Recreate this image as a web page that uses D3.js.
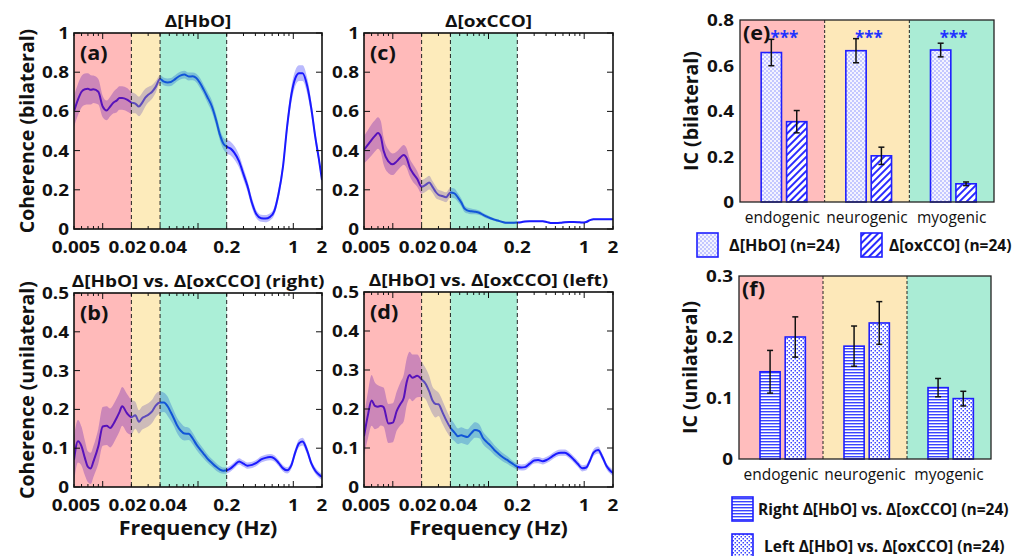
<!DOCTYPE html>
<html lang="en">
<head>
  <meta charset="UTF-8">
  <title>Coherence and IC</title>
  <script src="https://d3js.org/d3.v7.min.js"></script>
  <style>
    body { margin: 0; padding: 0; background: #fff; }
    svg { display: block; font-family: 'Open Sans', Lato, sans-serif; }
    .tick-label { font-size: 15.5px; font-weight: bold; fill: #111; }
    .axis-label { font-size: 19.5px; font-weight: bold; fill: #111; }
    .panel-title { font-size: 16.5px; font-weight: bold; fill: #111; }
    .tag { font-size: 20px; font-weight: bold; fill: #111; }
    .cat-label { font-size: 15.5px; fill: #111; }
    .legend-text { font-size: 15.5px; font-weight: bold; fill: #111; }
  </style>
</head>
<body>
  <div id="chart"></div>

  <script>
    // frequency grid (Hz) shared by the four coherence panels
    const freqs = [0.005, 0.0055, 0.006, 0.0065, 0.007, 0.0075, 0.008, 0.009, 0.010, 0.011,
      0.012, 0.013, 0.014, 0.015, 0.016, 0.018, 0.020, 0.022, 0.024, 0.026,
      0.028, 0.030, 0.033, 0.036, 0.040, 0.044, 0.048, 0.052, 0.056, 0.060,
      0.066, 0.072, 0.080, 0.088, 0.096, 0.105, 0.115, 0.125, 0.14, 0.155,
      0.17, 0.185, 0.2, 0.22, 0.24, 0.27, 0.30, 0.33, 0.37, 0.41,
      0.46, 0.51, 0.57, 0.63, 0.70, 0.78, 0.86, 0.95, 1.05, 1.15,
      1.25, 1.4, 1.55, 1.7, 1.85, 2.0];

    // (a) bilateral coherence, HbO
    const hboMean = [0.60, 0.66, 0.70, 0.713, 0.715, 0.71, 0.713, 0.70, 0.625, 0.605,
      0.625, 0.645, 0.655, 0.668, 0.668, 0.66, 0.645, 0.64, 0.625, 0.645,
      0.67, 0.685, 0.70, 0.725, 0.765, 0.752, 0.748, 0.75, 0.76, 0.772,
      0.784, 0.788, 0.778, 0.779, 0.77, 0.745, 0.71, 0.675, 0.625, 0.555,
      0.48, 0.435, 0.42, 0.41, 0.39, 0.345, 0.28, 0.22, 0.13, 0.075,
      0.055, 0.053, 0.062, 0.09, 0.18, 0.32, 0.52, 0.68, 0.77, 0.795,
      0.795, 0.73, 0.61, 0.47, 0.36, 0.25];
    const hboErr = [0.08, 0.08, 0.08, 0.08, 0.08, 0.075, 0.07, 0.065, 0.055, 0.05,
      0.05, 0.055, 0.06, 0.06, 0.06, 0.06, 0.055, 0.05, 0.05, 0.05,
      0.045, 0.04, 0.035, 0.03, 0.02, 0.02, 0.02, 0.02, 0.02, 0.02,
      0.02, 0.02, 0.02, 0.02, 0.022, 0.025, 0.025, 0.028, 0.03, 0.03,
      0.03, 0.03, 0.035, 0.035, 0.035, 0.033, 0.03, 0.028, 0.025, 0.02,
      0.018, 0.018, 0.018, 0.02, 0.025, 0.03, 0.035, 0.04, 0.04, 0.04,
      0.04, 0.04, 0.035, 0.03, 0.025, 0.02];

    // (c) bilateral coherence, oxCCO
    const oxMean = [0.404, 0.43, 0.455, 0.475, 0.49, 0.47, 0.40, 0.345, 0.33, 0.345,
      0.365, 0.378, 0.36, 0.315, 0.29, 0.255, 0.215, 0.225, 0.237, 0.215,
      0.19, 0.175, 0.168, 0.162, 0.186, 0.182, 0.16, 0.135, 0.105, 0.095,
      0.09, 0.088, 0.083, 0.072, 0.063, 0.055, 0.048, 0.043, 0.036, 0.032,
      0.032, 0.032, 0.033, 0.035, 0.038, 0.04, 0.04, 0.04, 0.04, 0.035,
      0.03, 0.03, 0.032, 0.035, 0.036, 0.036, 0.035, 0.033, 0.036, 0.045,
      0.05, 0.05, 0.05, 0.05, 0.05, 0.05];
    const oxErr = [0.07, 0.075, 0.08, 0.08, 0.08, 0.08, 0.07, 0.06, 0.055, 0.05,
      0.05, 0.05, 0.05, 0.045, 0.045, 0.04, 0.035, 0.035, 0.035, 0.03,
      0.03, 0.025, 0.025, 0.025, 0.025, 0.025, 0.022, 0.02, 0.018, 0.015,
      0.015, 0.013, 0.012, 0.01, 0.01, 0.008, 0.007, 0.006, 0.005, 0.005,
      0.005, 0.005, 0.004, 0.004, 0.004, 0.004, 0.004, 0.004, 0.004, 0.004,
      0.004, 0.004, 0.004, 0.004, 0.004, 0.004, 0.004, 0.004, 0.004, 0.004,
      0.004, 0.004, 0.004, 0.004, 0.004, 0.004];

    // (b) unilateral coherence, right
    const rightMean = [0.07, 0.118, 0.105, 0.075, 0.052, 0.048, 0.066, 0.105, 0.156, 0.158,
      0.152, 0.163, 0.178, 0.193, 0.208, 0.19, 0.18, 0.185, 0.168, 0.178,
      0.182, 0.186, 0.195, 0.21, 0.218, 0.218, 0.208, 0.192, 0.176, 0.16,
      0.145, 0.138, 0.137, 0.125, 0.11, 0.097, 0.085, 0.074, 0.062, 0.052,
      0.045, 0.042, 0.043, 0.048, 0.056, 0.066, 0.06, 0.055, 0.057, 0.062,
      0.071, 0.075, 0.077, 0.074, 0.062, 0.048, 0.043, 0.055, 0.09, 0.113,
      0.117, 0.093, 0.06, 0.042, 0.032, 0.026];
    const rightErr = [0.06, 0.055, 0.05, 0.045, 0.04, 0.04, 0.04, 0.045, 0.05, 0.05,
      0.05, 0.05, 0.05, 0.05, 0.05, 0.05, 0.045, 0.035, 0.03, 0.03,
      0.03, 0.03, 0.03, 0.03, 0.028, 0.025, 0.025, 0.022, 0.02, 0.02,
      0.02, 0.018, 0.016, 0.015, 0.014, 0.013, 0.012, 0.011, 0.01, 0.01,
      0.009, 0.008, 0.008, 0.008, 0.008, 0.008, 0.008, 0.008, 0.008, 0.008,
      0.008, 0.008, 0.008, 0.008, 0.008, 0.008, 0.008, 0.009, 0.01, 0.01,
      0.01, 0.01, 0.008, 0.008, 0.008, 0.008];

    // (d) unilateral coherence, left
    const leftMean = [0.13, 0.185, 0.222, 0.208, 0.206, 0.208, 0.205, 0.163, 0.165, 0.195,
      0.213, 0.228, 0.27, 0.287, 0.28, 0.285, 0.276, 0.265, 0.245, 0.222,
      0.213, 0.212, 0.192, 0.172, 0.152, 0.14, 0.13, 0.133, 0.13, 0.128,
      0.138, 0.146, 0.143, 0.125, 0.115, 0.106, 0.095, 0.087, 0.077, 0.07,
      0.063, 0.057, 0.052, 0.05, 0.051, 0.06, 0.068, 0.069, 0.066, 0.07,
      0.078, 0.085, 0.088, 0.088, 0.081, 0.07, 0.059, 0.048, 0.05, 0.068,
      0.088, 0.095, 0.077, 0.055, 0.043, 0.036];
    const leftErr = [0.05, 0.06, 0.065, 0.06, 0.055, 0.05, 0.05, 0.05, 0.05, 0.05,
      0.055, 0.06, 0.06, 0.06, 0.06, 0.055, 0.045, 0.04, 0.04, 0.035,
      0.035, 0.03, 0.03, 0.028, 0.025, 0.022, 0.02, 0.02, 0.02, 0.02,
      0.02, 0.02, 0.018, 0.016, 0.015, 0.014, 0.013, 0.012, 0.011, 0.01,
      0.009, 0.008, 0.008, 0.008, 0.008, 0.008, 0.008, 0.008, 0.008, 0.008,
      0.008, 0.008, 0.008, 0.008, 0.008, 0.008, 0.008, 0.008, 0.008, 0.008,
      0.009, 0.009, 0.008, 0.008, 0.008, 0.008];

    // frequency bands
    const bandNames = ['endogenic', 'neurogenic', 'myogenic'];
    const bandEdges = [0.005, 0.02, 0.04, 0.2];
    const xTickVals = [0.005, 0.02, 0.04, 0.2, 1, 2];
    const xTickNudge = [2, -4, 8, 0, 0, 0]; // keeps 0.02 / 0.04 apart

    // (e) IC bilateral
    const icHbo = [0.657, 0.665, 0.668];
    const icHboErr = [0.058, 0.053, 0.03];
    const icOx = [0.353, 0.203, 0.08];
    const icOxErr = [0.049, 0.038, 0.008];

    // (f) IC unilateral
    const icRight = [0.143, 0.185, 0.117];
    const icRightErr = [0.035, 0.033, 0.015];
    const icLeft = [0.2, 0.223, 0.099];
    const icLeftErr = [0.033, 0.035, 0.012];

    const overlayColors = ['rgba(255,0,0,0.27)', 'rgba(250,190,30,0.3)', 'rgba(0,205,135,0.33)'];
    const bgColors = ['#ffbdbd', '#fde8b9', '#aaecd5'];
    const lineBlue = '#1a1aff';

    const W = 1021, H = 556;
    const svg = d3.select('#chart').append('svg').attr('width', W).attr('height', H);
    const defs = svg.append('defs');

    // the source figure is a bit wider than tall, so horizontal text is stretched
    function addText(g, x, y, s, cls, anchor, sx) {
      return g.append('text').attr('class', cls)
        .attr('text-anchor', anchor || 'start')
        .attr('transform', `translate(${x},${y}) scale(${sx || 1},1)`)
        .text(s);
    }

    // bar fill patterns
    const pHbo = defs.append('pattern').attr('id', 'pHbo')
      .attr('width', 4).attr('height', 4).attr('patternUnits', 'userSpaceOnUse');
    pHbo.append('rect').attr('width', 4).attr('height', 4).attr('fill', '#f4f4ff');
    pHbo.append('rect').attr('width', 2).attr('height', 2).attr('fill', '#c4c8ff');
    pHbo.append('rect').attr('x', 2).attr('y', 2).attr('width', 2).attr('height', 2).attr('fill', '#c4c8ff');

    const pOx = defs.append('pattern').attr('id', 'pOx')
      .attr('width', 5).attr('height', 5).attr('patternUnits', 'userSpaceOnUse')
      .attr('patternTransform', 'rotate(45)');
    pOx.append('rect').attr('width', 5).attr('height', 5).attr('fill', '#fff');
    pOx.append('rect').attr('width', 2).attr('height', 5).attr('fill', '#2a2aff');

    const pRight = defs.append('pattern').attr('id', 'pRight')
      .attr('width', 4).attr('height', 3).attr('patternUnits', 'userSpaceOnUse');
    pRight.append('rect').attr('width', 4).attr('height', 3).attr('fill', '#fff');
    pRight.append('rect').attr('width', 4).attr('height', 1.4).attr('fill', '#3a44ff');

    const pLeft = defs.append('pattern').attr('id', 'pLeft')
      .attr('width', 4).attr('height', 4).attr('patternUnits', 'userSpaceOnUse');
    pLeft.append('rect').attr('width', 4).attr('height', 4).attr('fill', '#fff');
    pLeft.append('rect').attr('x', 0.5).attr('y', 0).attr('width', 1.5).attr('height', 1.5).attr('fill', '#3a44ff');
    pLeft.append('rect').attr('x', 2.5).attr('y', 2).attr('width', 1.5).attr('height', 1.5).attr('fill', '#3a44ff');

    function curvePanel(box, yMax, yStep, mean, err, opts) {
      const g = svg.append('g');
      const x = d3.scaleLog().domain([0.005, 2]).range([box.x0, box.x1]);
      const y = d3.scaleLinear().domain([0, yMax]).range([box.y1, box.y0]);
      const pts = freqs.map((f, i) => ({ f, m: mean[i], e: err[i] }));
      const clipId = 'clip' + opts.tag.replace(/[()]/g, '');

      defs.append('clipPath').attr('id', clipId).append('rect')
        .attr('x', box.x0).attr('y', box.y0)
        .attr('width', box.x1 - box.x0).attr('height', box.y1 - box.y0);

      const inner = g.append('g').attr('clip-path', `url(#${clipId})`);
      inner.append('path')
        .datum(pts)
        .attr('fill', '#babafd')
        .attr('d', d3.area().curve(d3.curveMonotoneX)
          .x(d => x(d.f)).y0(d => y(d.m - d.e)).y1(d => y(d.m + d.e)));
      inner.append('path')
        .datum(pts)
        .attr('fill', 'none').attr('stroke', lineBlue).attr('stroke-width', 2)
        .attr('d', d3.line().curve(d3.curveMonotoneX).x(d => x(d.f)).y(d => y(d.m)));

      // coloured bands are laid over the curve
      inner.selectAll('rect.band')
        .data(d3.range(3))
        .enter().append('rect')
        .attr('class', 'band')
        .attr('x', i => x(bandEdges[i]))
        .attr('width', i => x(bandEdges[i + 1]) - x(bandEdges[i]))
        .attr('y', box.y0).attr('height', box.y1 - box.y0)
        .attr('fill', i => overlayColors[i]);

      g.selectAll('line.edge')
        .data(bandEdges.slice(1))
        .enter().append('line')
        .attr('x1', d => x(d)).attr('x2', d => x(d))
        .attr('y1', box.y0).attr('y2', box.y1)
        .attr('stroke', '#222').attr('stroke-width', 1).attr('stroke-dasharray', '4,3');

      // ticks inside the frame
      x.ticks().forEach(t => {
        const major = Math.abs(Math.log10(t) - Math.round(Math.log10(t))) < 1e-6;
        const len = major ? 6 : 3;
        g.append('line').attr('x1', x(t)).attr('x2', x(t))
          .attr('y1', box.y1).attr('y2', box.y1 - len).attr('stroke', '#111');
        g.append('line').attr('x1', x(t)).attr('x2', x(t))
          .attr('y1', box.y0).attr('y2', box.y0 + len).attr('stroke', '#111');
      });
      const yTicks = d3.range(0, yMax + 1e-9, yStep);
      yTicks.forEach(t => {
        g.append('line').attr('x1', box.x0).attr('x2', box.x0 + 6)
          .attr('y1', y(t)).attr('y2', y(t)).attr('stroke', '#111');
        g.append('line').attr('x1', box.x1).attr('x2', box.x1 - 6)
          .attr('y1', y(t)).attr('y2', y(t)).attr('stroke', '#111');
      });

      g.append('rect')
        .attr('x', box.x0).attr('y', box.y0)
        .attr('width', box.x1 - box.x0).attr('height', box.y1 - box.y0)
        .attr('fill', 'none').attr('stroke', '#111').attr('stroke-width', 1.6);

      yTicks.forEach(t => addText(g, box.x0 - 5, y(t) + 6,
        d3.format('~g')(+t.toFixed(2)), 'tick-label', 'end', 1.22));

      xTickVals.forEach((t, i) => addText(g, x(t) + xTickNudge[i], box.y1 + 24,
        t, 'tick-label', 'middle', 1.22));

      addText(g, (box.x0 + box.x1) / 2, box.y0 - 6, opts.title, 'panel-title', 'middle', 1.15);
      addText(g, box.x0 + 6, box.y0 + 27, opts.tag, 'tag', 'start', 1.08);

      if (opts.yLabel) {
        g.append('text').attr('class', 'axis-label')
          .attr('transform', `translate(${box.x0 - 40},${(box.y0 + box.y1) / 2}) rotate(-90)`)
          .attr('text-anchor', 'middle').text(opts.yLabel);
      }
      if (opts.xLabel) {
        addText(g, (box.x0 + box.x1) / 2, box.y1 + 48, 'Frequency (Hz)', 'axis-label', 'middle', 1.1);
      }
    }

    function barPanel(box, yMax, yStep, series, opts) {
      const g = svg.append('g');
      const x0 = d3.scaleBand().domain(bandNames).range([box.x0, box.x1]);
      const bw = x0.bandwidth();
      const x1 = d3.scaleBand().domain(series.map(s => s.key))
        .range([0.25 * bw, 0.79 * bw]).paddingInner(0.2);
      const y = d3.scaleLinear().domain([0, yMax]).range([box.y1, box.y0]);

      g.selectAll('rect.bg')
        .data(bandNames)
        .enter().append('rect')
        .attr('x', d => x0(d)).attr('width', bw)
        .attr('y', box.y0).attr('height', box.y1 - box.y0)
        .attr('fill', (d, i) => bgColors[i]);

      g.selectAll('line.sep')
        .data(bandNames.slice(1))
        .enter().append('line')
        .attr('x1', d => x0(d)).attr('x2', d => x0(d))
        .attr('y1', box.y0).attr('y2', box.y1)
        .attr('stroke', '#222').attr('stroke-dasharray', '3,2');

      series.forEach(s => {
        const sg = g.append('g');
        sg.selectAll('rect')
          .data(bandNames)
          .enter().append('rect')
          .attr('x', d => x0(d) + x1(s.key))
          .attr('width', x1.bandwidth())
          .attr('y', (d, i) => y(s.vals[i]))
          .attr('height', (d, i) => box.y1 - y(s.vals[i]))
          .attr('fill', `url(#${s.pattern})`)
          .attr('stroke', '#1f1fff').attr('stroke-width', 1.6);
        bandNames.forEach((d, i) => {
          const cx = x0(d) + x1(s.key) + x1.bandwidth() / 2;
          const top = y(s.vals[i] + s.errs[i]), bot = y(s.vals[i] - s.errs[i]);
          sg.append('line').attr('x1', cx).attr('x2', cx).attr('y1', top).attr('y2', bot)
            .attr('stroke', '#111').attr('stroke-width', 1.5);
          [top, bot].forEach(v => sg.append('line')
            .attr('x1', cx - 3).attr('x2', cx + 3).attr('y1', v).attr('y2', v)
            .attr('stroke', '#111').attr('stroke-width', 1.5));
        });
      });

      g.append('rect')
        .attr('x', box.x0).attr('y', box.y0)
        .attr('width', box.x1 - box.x0).attr('height', box.y1 - box.y0)
        .attr('fill', 'none').attr('stroke', '#222').attr('stroke-width', 1.3);

      d3.range(0, yMax + 1e-9, yStep).forEach(t => addText(g, box.x0 - 6, y(t) + 6,
        d3.format('~g')(+t.toFixed(2)), 'tick-label', 'end', 1.22));

      g.selectAll('text.cat')
        .data(bandNames)
        .enter().append('text')
        .attr('class', 'cat-label')
        .attr('x', d => x0(d) + bw / 2).attr('y', box.y1 + 21)
        .attr('text-anchor', 'middle').text(d => d);

      addText(g, box.x0 + 3, box.y0 + 20, opts.tag, 'tag', 'start', 1.08);

      if (opts.stars) {
        g.selectAll('text.star')
          .data(bandNames)
          .enter().append('text')
          .attr('x', d => x0(d) + bw / 2 + 2).attr('y', box.y0 + 24)
          .attr('text-anchor', 'middle')
          .attr('font-size', 17).attr('font-weight', 'bold').attr('fill', '#2233ff')
          .text('***');
      }

      g.append('text').attr('class', 'axis-label')
        .attr('transform', `translate(${box.x0 - 42},${(box.y0 + box.y1) / 2}) rotate(-90)`)
        .attr('text-anchor', 'middle').text(opts.yLabel);

      // legend
      opts.legend.forEach(l => {
        g.append('rect').attr('x', l.x).attr('y', l.y).attr('width', 21).attr('height', 24)
          .attr('fill', `url(#${l.pattern})`).attr('stroke', '#1f1fff').attr('stroke-width', 1.6);
        addText(g, l.x + l.dx, l.y + 18, l.label, 'legend-text', 'start', l.sx);
      });
    }

    curvePanel({ x0: 74, x1: 322, y0: 33, y1: 229 }, 1, 0.2, hboMean, hboErr,
      { title: 'Δ[HbO]', tag: '(a)', yLabel: 'Coherence (bilateral)' });
    curvePanel({ x0: 364, x1: 613, y0: 33, y1: 229 }, 1, 0.2, oxMean, oxErr,
      { title: 'Δ[oxCCO]', tag: '(c)' });
    curvePanel({ x0: 74, x1: 322, y0: 293, y1: 487 }, 0.5, 0.1, rightMean, rightErr,
      { title: 'Δ[HbO] vs. Δ[oxCCO] (right)', tag: '(b)', yLabel: 'Coherence (unilateral)', xLabel: true });
    curvePanel({ x0: 364, x1: 613, y0: 292, y1: 487 }, 0.5, 0.1, leftMean, leftErr,
      { title: 'Δ[HbO] vs. Δ[oxCCO] (left)', tag: '(d)', xLabel: true });

    barPanel({ x0: 740, x1: 994, y0: 20, y1: 202 }, 0.8, 0.2, [
      { key: 'hbo', vals: icHbo, errs: icHboErr, pattern: 'pHbo' },
      { key: 'ox', vals: icOx, errs: icOxErr, pattern: 'pOx' }
    ], {
      tag: '(e)', stars: true, yLabel: 'IC (bilateral)',
      legend: [
        { x: 697, y: 233, dx: 32, sx: 1.05, pattern: 'pHbo', label: 'Δ[HbO] (n=24)' },
        { x: 861, y: 233, dx: 28, sx: 1.0, pattern: 'pOx', label: 'Δ[oxCCO] (n=24)' }
      ]
    });

    barPanel({ x0: 739, x1: 991, y0: 276, y1: 459 }, 0.3, 0.1, [
      { key: 'right', vals: icRight, errs: icRightErr, pattern: 'pRight' },
      { key: 'left', vals: icLeft, errs: icLeftErr, pattern: 'pLeft' }
    ], {
      tag: '(f)', yLabel: 'IC (unilateral)',
      legend: [
        { x: 732, y: 497, dx: 26, sx: 1.0, pattern: 'pRight', label: 'Right Δ[HbO] vs. Δ[oxCCO] (n=24)' },
        { x: 732, y: 534, dx: 32, sx: 1.0, pattern: 'pLeft', label: 'Left Δ[HbO] vs. Δ[oxCCO] (n=24)' }
      ]
    });
  </script>
</body>
</html>
